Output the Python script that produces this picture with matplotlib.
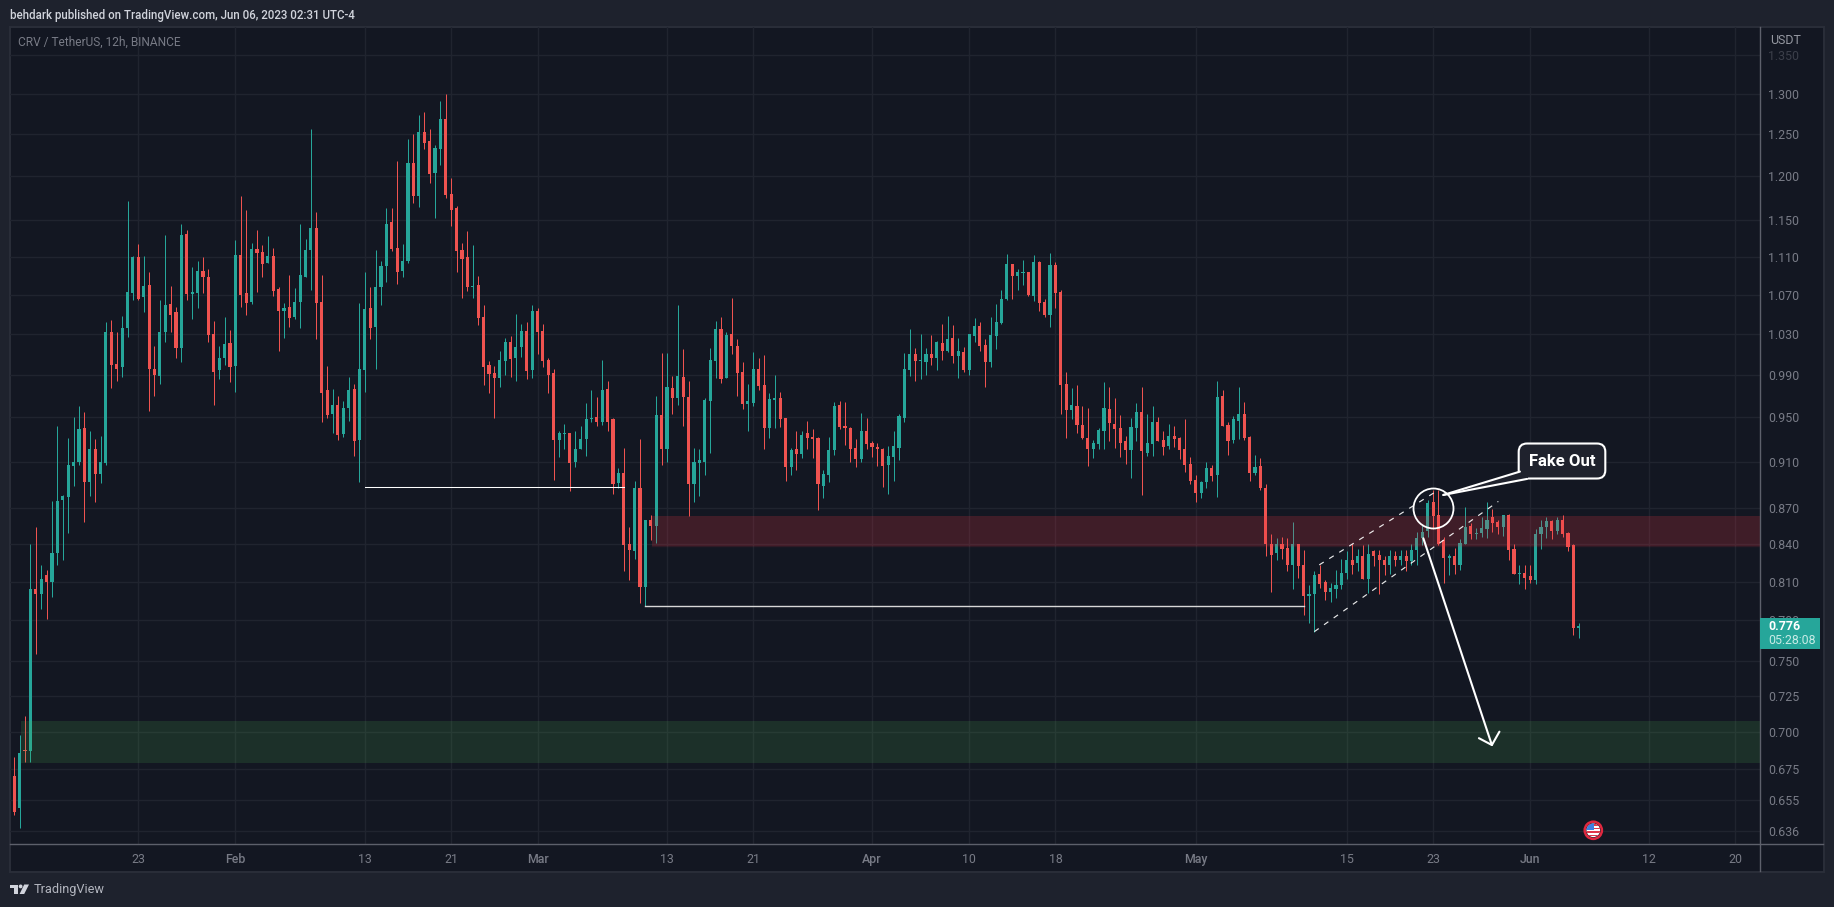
import matplotlib
matplotlib.use("Agg")
import matplotlib.pyplot as plt
from matplotlib.patches import Rectangle, Circle, Polygon
from matplotlib.ticker import NullLocator

plt.rcParams['font.family'] = ['Roboto', 'DejaVu Sans']

# candle number 0 is the 12h candle at the "23" January tick
first_candle = -24
directions = ("GRGRGRGRGG" "GGGGRGRGGR" "RGGGRGRRGG" "RRGRGGRRRG" "GRGRRGRRGR"
              "RGRGGGGRRR" "GRGGRGGRGG" "GRRGGRGRRG" "GRRRRRGRRR" "RGGRGGRGRR"
              "RRGGRGGGGR" "GRRGRRGRGR" "GRGRGRRGGG" "GGRGRRRGGR" "RGGRRGRGRR"
              "RGGGRRRRGR" "RRRGGGGGRG" "GRGRGRGRGG" "RRGGGGRGGR" "GRRGRRRGRR"
              "RGGGRRRRGG" "RGGRRGRRRR" "RGGRGRRGGR" "RGRRRGRRGR" "RGGRRGGGGR"
              "GRGRRRGRGR" "GGGGRRRGRG" "GRGGGRRGRR" "GRRGGGRGRRRG")

highs = [
 .672,.683,.698,.711,.840,.854,.823,.819,.876,.942,
 .881,.931,.950,.960,.955,.937,.930,.933,1.042,1.044,
 1.032,1.048,1.172,1.111,1.124,1.111,1.094,1.018,1.064,1.134,
 1.079,1.057,1.146,1.139,1.099,1.105,1.110,1.097,1.043,1.018,
 1.047,1.034,1.128,1.178,1.162,1.125,1.139,1.123,1.133,1.120,
 1.078,1.061,1.091,1.077,1.146,1.129,1.257,1.159,1.091,.998,
 .976,.970,.965,.988,.981,1.061,1.094,1.078,1.117,1.106,
 1.164,1.164,1.218,1.124,1.245,1.251,1.274,1.277,1.256,1.237,
 1.291,1.300,1.198,1.166,1.125,1.138,1.123,1.090,1.059,1.003,
 .998,1.013,1.026,1.028,1.050,1.040,1.042,1.059,1.056,1.040,
 1.006,.996,.937,.944,.936,.937,.942,.963,.975,.969,
 1.004,.984,.949,.904,.922,.854,.893,.930,.860,.864,
 .970,1.011,1.011,.989,1.059,1.015,.984,.922,.921,.968,
 1.016,1.043,1.047,1.032,1.067,1.025,1.002,.981,1.012,1.006,
 1.009,.973,.990,.974,.949,.922,.937,.937,.947,.939,
 .932,.903,.932,.964,.965,.964,.941,.930,.954,.949,
 .928,.927,.922,.924,.937,.953,1.011,1.035,1.016,1.030,
 1.016,1.029,1.023,1.040,1.048,1.039,1.026,1.017,1.030,1.046,
 1.042,1.025,1.047,1.060,1.075,1.113,1.102,1.097,1.107,1.094,
 1.112,1.105,1.066,1.114,1.104,1.075,.993,.977,.980,.960,
 .959,.929,.940,.983,.978,.968,.952,.933,.949,.963,
 .978,.953,.960,.950,.937,.944,.942,.932,.948,.914,
 .898,.893,.910,.907,.984,.975,.946,.951,.978,.964,
 .933,.916,.913,.890,.848,.845,.846,.845,.858,.840,
 .835,.807,.818,.823,.811,.809,.819,.828,.834,.840,
 .836,.839,.840,.835,.835,.830,.835,.834,.835,.835,
 .840,.850,.856,.877,.885,.885,.846,.832,.837,.844,
 .871,.857,.853,.862,.875,.869,.860,.864,.865,.840,
 .823,.823,.823,.852,.860,.862,.860,.862,.864,.850,.840,.778]

body_tops = [
 .672,.671,.686,.688,.804,.804,.812,.815,.833,.876,
 .880,.907,.910,.939,.940,.921,.921,.910,1.032,1.032,
 1.000,1.036,1.073,1.110,1.110,1.079,1.080,.996,1.032,1.059,
 1.060,1.052,1.134,1.135,1.073,1.095,1.095,1.089,1.030,1.006,
 1.020,1.021,1.112,1.112,1.072,1.118,1.119,1.115,1.111,1.111,
 1.076,1.056,1.057,1.062,1.091,1.117,1.141,1.142,1.062,.975,
 .961,.961,.959,.975,.976,.996,1.055,1.056,1.078,1.100,
 1.146,1.148,1.120,1.105,1.216,1.216,1.253,1.253,1.242,1.234,
 1.269,1.269,1.180,1.164,1.117,1.110,1.079,1.080,1.047,.999,
 .992,1.004,1.022,1.022,1.017,1.033,1.033,1.053,1.053,1.033,
 1.004,.992,.936,.936,.936,.921,.930,.948,.949,.950,
 .975,.976,.948,.900,.900,.840,.887,.887,.860,.860,
 .952,.952,.978,.977,.989,.988,.969,.910,.911,.966,
 1.004,1.035,1.035,1.029,1.030,1.018,.993,.965,.996,.996,
 .980,.967,.968,.968,.949,.920,.921,.934,.936,.932,
 .931,.899,.920,.960,.961,.942,.940,.922,.937,.937,
 .927,.923,.921,.915,.924,.951,.996,1.010,1.010,1.004,
 1.010,1.010,1.022,1.021,1.025,1.026,1.013,1.012,1.030,1.038,
 1.038,1.019,1.029,1.042,1.065,1.102,1.102,1.094,1.094,1.094,
 1.104,1.104,1.062,1.101,1.101,1.073,.981,.961,.960,.943,
 .931,.927,.938,.959,.958,.944,.940,.928,.941,.955,
 .955,.927,.946,.946,.929,.933,.933,.931,.921,.908,
 .894,.892,.904,.904,.969,.970,.943,.948,.953,.953,
 .932,.905,.906,.887,.840,.840,.840,.837,.840,.840,
 .823,.800,.815,.816,.810,.805,.807,.817,.827,.827,
 .830,.830,.832,.834,.831,.827,.830,.830,.830,.830,
 .835,.845,.850,.874,.875,.864,.843,.830,.830,.841,
 .854,.855,.849,.853,.860,.862,.858,.864,.864,.836,
 .817,.817,.814,.848,.854,.859,.859,.860,.860,.849,.839,.776]

body_bottoms = [
 .668,.648,.650,.687,.687,.800,.800,.810,.810,.833,
 .877,.879,.906,.910,.892,.892,.899,.899,.909,.999,
 .996,.997,1.036,1.072,1.066,1.068,.996,.990,.989,1.032,
 1.049,1.016,1.016,1.071,1.071,1.072,1.088,1.029,.993,.995,
 1.006,.997,.998,1.070,1.061,1.062,1.114,1.102,1.103,1.074,
 1.053,1.053,1.046,1.047,1.062,1.089,1.117,1.061,.973,.952,
 .953,.934,.935,.959,.928,.929,.995,1.036,1.037,1.078,
 1.100,1.119,1.094,1.095,1.105,1.178,1.178,1.240,1.203,1.204,
 1.233,1.179,1.162,1.116,1.108,1.078,1.078,1.046,.997,.991,
 .987,.987,1.003,1.005,1.006,1.017,.994,.995,1.032,1.003,
 .990,.929,.929,.935,.909,.910,.921,.930,.948,.946,
 .946,.946,.890,.891,.839,.835,.834,.806,.806,.855,
 .855,.921,.921,.968,.968,.969,.890,.890,.909,.910,
 .965,1.003,.986,.987,1.018,.992,.962,.962,.963,.979,
 .940,.940,.966,.948,.905,.905,.917,.917,.931,.930,
 .890,.889,.898,.920,.941,.940,.921,.912,.912,.926,
 .923,.921,.906,.907,.914,.922,.949,.995,1.003,1.003,
 1.002,1.006,1.006,1.013,1.013,1.008,1.008,.995,.995,1.028,
 1.018,1.002,1.002,1.028,1.041,1.065,1.090,1.090,1.093,1.070,
 1.069,1.061,1.049,1.049,1.072,.980,.957,.957,.943,.931,
 .921,.921,.926,.937,.945,.939,.927,.920,.920,.940,
 .919,.918,.926,.928,.923,.924,.930,.920,.907,.893,
 .883,.883,.892,.897,.898,.942,.928,.929,.947,.931,
 .900,.900,.887,.840,.831,.833,.836,.823,.823,.822,
 .799,.799,.800,.808,.802,.802,.804,.807,.817,.823,
 .825,.812,.812,.830,.827,.823,.823,.827,.827,.826,
 .826,.835,.845,.851,.863,.840,.829,.829,.823,.823,
 .840,.848,.848,.849,.852,.857,.854,.854,.835,.816,
 .816,.813,.811,.811,.848,.854,.851,.851,.848,.838,.774,.774]

lows = [
 .668,.646,.638,.680,.680,.755,.789,.781,.798,.823,
 .827,.849,.889,.907,.858,.880,.875,.891,.907,.977,
 .984,.988,1.027,1.064,1.064,1.052,.956,.970,.981,1.022,
 1.032,1.006,1.002,1.064,1.045,1.056,1.072,1.022,.961,.986,
 .999,.983,.974,1.057,1.049,1.060,1.073,1.088,1.103,1.069,
 1.013,1.026,1.037,1.045,1.036,1.088,1.075,1.025,.946,.949,
 .936,.929,.932,.947,.915,.892,.974,1.025,.996,1.059,
 1.083,1.116,1.081,1.089,1.103,1.170,1.165,1.233,1.192,1.153,
 1.214,1.175,1.144,1.094,1.067,1.074,1.067,1.039,.980,.973,
 .949,.978,.990,.988,.984,1.007,.986,.987,1.010,.997,
 .973,.894,.914,.921,.884,.905,.921,.915,.946,.942,
 .943,.937,.882,.887,.818,.811,.828,.793,.791,.843,
 .841,.907,.910,.953,.961,.942,.863,.875,.880,.898,
 .918,.987,.982,.987,1.010,.970,.958,.937,.960,.975,
 .921,.931,.940,.941,.893,.898,.903,.913,.921,.913,
 .868,.878,.892,.916,.939,.925,.910,.905,.910,.921,
 .914,.906,.888,.882,.893,.911,.946,.989,.984,.986,
 .990,.999,.995,1.004,1.012,1.001,.987,.993,.990,1.022,
 1.013,.978,.997,1.015,1.040,1.064,1.066,1.075,1.080,1.069,
 1.063,1.053,1.047,1.037,1.056,.953,.931,.948,.936,.930,
 .906,.913,.921,.921,.928,.922,.914,.908,.896,.928,
 .881,.915,.915,.928,.916,.921,.923,.912,.901,.890,
 .875,.878,.887,.893,.879,.942,.916,.927,.930,.929,
 .893,.898,.885,.830,.802,.827,.828,.818,.804,.813,
 .784,.778,.771,.805,.796,.794,.797,.804,.812,.816,
 .818,.812,.801,.822,.800,.815,.816,.822,.823,.818,
 .823,.823,.839,.846,.852,.839,.809,.815,.816,.819,
 .840,.844,.844,.846,.845,.850,.848,.847,.827,.816,
 .808,.804,.809,.808,.836,.845,.844,.848,.846,.834,.769,.767]

price_ticks = [1.35,1.30,1.25,1.20,1.15,1.11,1.07,1.03,.99,.95,.91,.87,.84,.81,.78,.75,.725,.70,.675,.655,.636]
price_labels = ["1.350","1.300","1.250","1.200","1.150","1.110","1.070","1.030","0.990","0.950","0.910",
                "0.870","0.840","0.810","0.780","0.750","0.725","0.700","0.675","0.655","0.636"]
time_ticks = [0,18,42,58,74,98,114,136,154,170,196,224,240,258,280,296]
time_labels = ["23","Feb","13","21","Mar","13","21","Apr","10","18","May","15","23","Jun","12","20"]
month_labels = {"Feb","Mar","Apr","May","Jun"}

supply_start, supply_low, supply_high = 95.2, .8385, .8634
demand_start, demand_low, demand_high = -21.7, .6795, .7076
level_upper = (42, 90, .8875)
level_lower = (94, 216, .7911)
channel_upper = ([218.9, 240.4], [.8232, .8835])
channel_lower = ([218.0, 252.1], [.7716, .8755])
fake_out_point = (240.0, .870)
arrow_shaft = ([238.2, 250.9], [.8447, .6912])
arrow_head = ([248.5, 250.9, 252.3], [.6958, .6912, .7002])
callout_tip = (241.9, .881)
callout_base = [(256.1, .9012), (257.4, .8948)]
callout_box = (263.9, .9105)

BG = '#131722'; OUTER = '#1e222d'; BORDER = '#2a2e39'; GRID = '#20242f'
AXIS = '#5d606b'; TXT = '#787b86'; UP = '#26a69a'; DOWN = '#ef5350'

W, H = 1834, 907
fig = plt.figure(figsize=(W/100, H/100), dpi=100, facecolor=OUTER)

bg = fig.add_axes([0, 0, 1, 1], zorder=0)
bg.set_xlim(0, W); bg.set_ylim(H, 0); bg.axis('off')
bg.add_patch(Rectangle((9.5, 26.5), 1814, 845, fc=BG, ec=BORDER, lw=1.4))

L, R, T, B = 10, 1760, 27, 844
ax = fig.add_axes([L/W, 1-B/H, (R-L)/W, (B-T)/H], zorder=1)
ax.patch.set_alpha(0)
ax.set_yscale('log')
ax.set_xlim(-23.78, 300.6)
ax.set_ylim(.6279, 1.3873)
ax.yaxis.set_minor_locator(NullLocator())
ax.set_yticks(price_ticks)
ax.set_yticklabels(price_labels)
ax.yaxis.tick_right()
ax.set_xticks(time_ticks)
ax.set_xticklabels(time_labels)
ax.tick_params(axis='y', length=0, pad=5.8, labelsize=8.9, labelcolor=TXT)
ax.tick_params(axis='x', length=0, pad=6.5, labelsize=8.9, labelcolor=TXT)
for lab in ax.get_xticklabels():
    if lab.get_text() in month_labels:
        lab.set_fontweight('medium')
for lab in ax.get_yticklabels():
    if lab.get_text() == "1.350":
        lab.set_alpha(.4)
ax.grid(True, color=GRID, lw=1.0)
ax.set_axisbelow(True)
for s in ax.spines.values():
    s.set_visible(False)

xs = [first_candle + i for i in range(len(highs))]
colors = [UP if d == 'G' else DOWN for d in directions]
ax.vlines(xs, lows, highs, colors=colors, lw=0.72, zorder=2)
ax.bar(xs, [t-b for t, b in zip(body_tops, body_bottoms)], bottom=body_bottoms,
       width=.58, color=colors, lw=0, zorder=2.1)

# zones
ax.fill_between([supply_start, 300.6], supply_low, supply_high, color='#f23645', alpha=.2, lw=0, zorder=3)
ax.plot([supply_start, 300.6], [supply_low, supply_low], color='#f23645', alpha=.12, lw=1, zorder=3)
ax.fill_between([demand_start, 300.6], demand_low, demand_high, color='#4caf50', alpha=.17, lw=0, zorder=3)

# drawings
ax.plot(level_upper[:2], [level_upper[2]]*2, color='white', lw=.75, zorder=4)
ax.plot(level_lower[:2], [level_lower[2]]*2, color='#d8d8d8', lw=1.0, zorder=4)
for ch in (channel_upper, channel_lower):
    ax.plot(*ch, color='white', lw=.85, ls=(0, (4.5, 5.5)), alpha=.9, zorder=4)
ax.plot(*arrow_shaft, color='white', lw=1.5, zorder=4, solid_capstyle='round')
ax.plot(*arrow_head, color='white', lw=1.5, zorder=4, solid_capstyle='round')
ax.plot([fake_out_point[0]], [fake_out_point[1]], marker='o', ms=28.8, mfc='none', mec='white', mew=1.3, zorder=4)

ax.text(*callout_box, "Fake Out", color='white', fontsize=12, fontweight='bold', ha='center', va='center', zorder=6,
        bbox=dict(boxstyle='round,pad=0.6,rounding_size=0.5', fc='#1f222d', ec='white', lw=1.5))
tail = [callout_tip, callout_base[0], (259.0, .905), callout_base[1]]
ax.add_patch(Polygon(tail, closed=True, fc='#1f222d', ec='none', zorder=6.1))
for b in callout_base:
    ax.plot([callout_tip[0], b[0]], [callout_tip[1], b[1]], color='white', lw=1.5, zorder=6.2, solid_capstyle='round')

# overlay chrome
ov = fig.add_axes([0, 0, 1, 1], zorder=2)
ov.set_xlim(0, W); ov.set_ylim(H, 0); ov.axis('off'); ov.patch.set_alpha(0)
ov.plot([10, 1823], [844, 844], color=AXIS, lw=1.0)
ov.plot([1760, 1760], [27, 871], color=AXIS, lw=1.0)
ov.text(10, 15, "behdark published on TradingView.com, Jun 06, 2023 02:31 UTC-4", color='#d1d4dc',
        fontsize=8.32, fontweight='medium', va='center')
ov.text(18, 42, "CRV / TetherUS, 12h, BINANCE", color=TXT, fontsize=8.6, va='center')
ov.text(1770, 41, "USDT", color='#9598a1', fontsize=8.9, va='center')

ov.add_patch(Rectangle((1760, 618), 60, 31, fc=UP, ec='none', zorder=5))
ov.text(1768, 626.5, f"{body_tops[-1]:.3f}", color='white', fontsize=8.9, fontweight='bold', va='center', zorder=6)
ov.text(1768, 640.5, "05:28:08", color='#c8ebe6', fontsize=8.9, va='center', zorder=6)

# economic-event flag
cx, cy = 1593.3, 830.3
ov.add_patch(Circle((cx, cy), 8.6, fc=BG, ec='#e0283f', lw=1.8, zorder=5))
disc = Circle((cx, cy), 6.8, fc='white', ec='none', zorder=5.1)
ov.add_patch(disc)
for k in range(4):
    s = Rectangle((cx-7, cy-6+k*3.4), 14, 1.7, fc='#e0384b', ec='none', zorder=5.2)
    ov.add_patch(s); s.set_clip_path(disc)
canton = Rectangle((cx-7, cy-7), 7.5, 7, fc='#3f7fe0', ec='none', zorder=5.3)
ov.add_patch(canton); canton.set_clip_path(disc)

# TradingView logo
LOGO = '#d1d4dc'
ov.add_patch(Polygon([(10, 884.5), (18, 884.5), (18, 894), (14.3, 894), (14.3, 888), (10, 888)], fc=LOGO, ec='none'))
ov.add_patch(Circle((20.6, 886.4), 1.9, fc=LOGO, ec='none'))
ov.add_patch(Polygon([(24.2, 884.5), (29, 884.5), (24.2, 894), (19.6, 894)], fc=LOGO, ec='none'))
ov.text(33.5, 889.5, "TradingView", color='#b2b5be', fontsize=9.2, va='center')

fig.savefig('out.png', dpi=100, facecolor=OUTER)
